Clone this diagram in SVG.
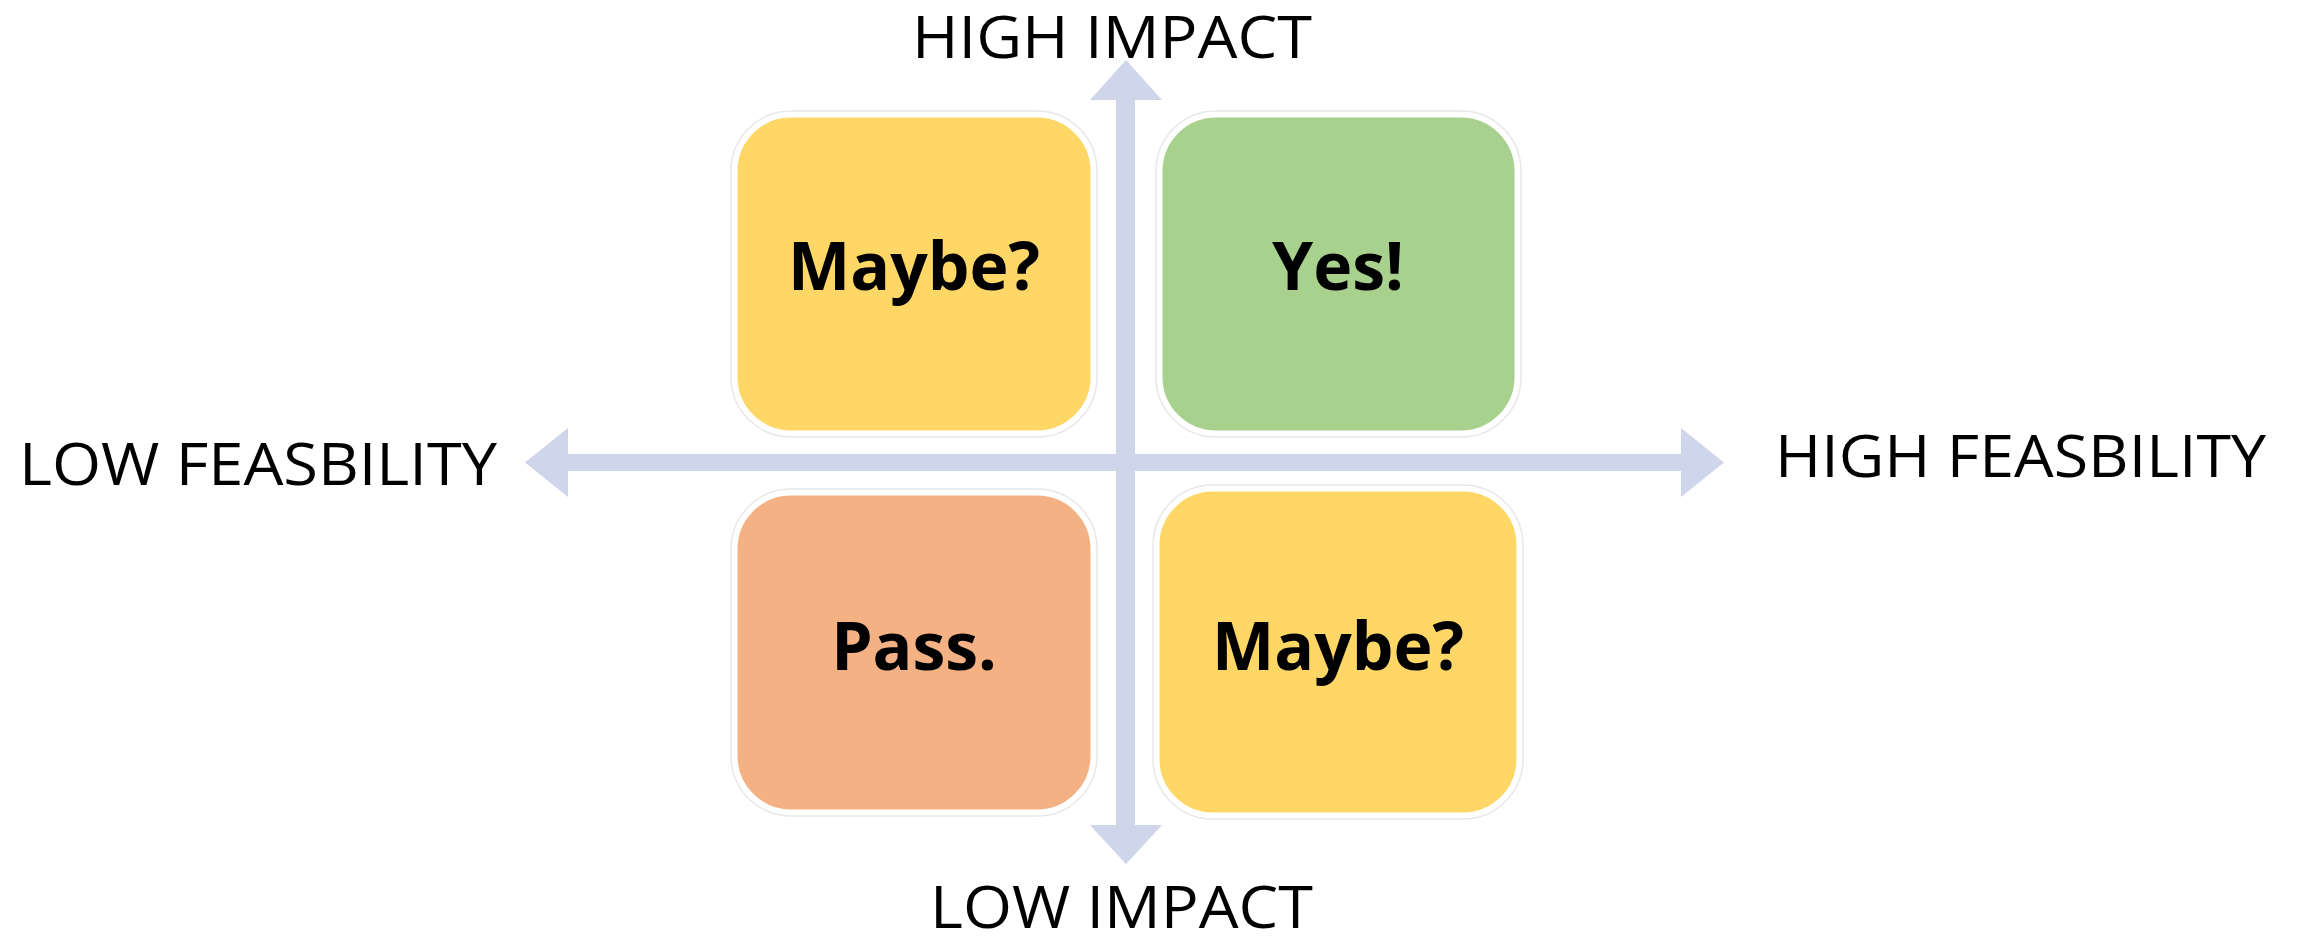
<svg xmlns="http://www.w3.org/2000/svg" width="2298" height="941" viewBox="0 0 2298 941">
<style>
.axis{fill:#cfd5ea;}
.box{stroke:#ffffff;stroke-width:5;}
.halo{fill:none;stroke:#e8e8e8;stroke-width:1.5;}
.lbl{font-family:"Open Sans","Noto Sans",sans-serif;font-size:58px;fill:#000;}
.q{font-family:"Open Sans","Noto Sans",sans-serif;font-weight:bold;font-size:66px;fill:#000;text-anchor:middle;}
</style>
<rect width="2298" height="941" fill="#ffffff"/>
<g id="connectors">
<polygon class="axis" points="1116,100 1090,100 1126,60 1162,100 1135,100 1135,825 1162,825 1126,864 1090,825 1116,825"/>
<polygon class="axis" points="568,454 568,428 525,462.5 568,497 568,471 1681,471 1681,497 1724,462.5 1681,428 1681,454"/>
</g>
<g id="node-maybe-tl">
<rect class="halo" x="731" y="111" width="366" height="326" rx="60"/>
<rect class="box" x="735" y="115" width="358" height="318" rx="56" fill="#ffd766"/>
<text class="q" x="914" y="290">Maybe?</text>
</g>
<g id="node-yes">
<rect class="halo" x="1156" y="111" width="365" height="326" rx="60"/>
<rect class="box" x="1160" y="115" width="357" height="318" rx="56" fill="#a9d18e"/>
<text class="q" x="1338" y="290">Yes!</text>
</g>
<g id="node-pass">
<rect class="halo" x="731" y="489" width="366" height="327" rx="60"/>
<rect class="box" x="735" y="493" width="358" height="319" rx="56" fill="#f4b183"/>
<text class="q" x="914" y="670">Pass.</text>
</g>
<g id="node-maybe-br">
<rect class="halo" x="1153" y="485" width="370" height="334" rx="60"/>
<rect class="box" x="1157" y="489" width="362" height="326" rx="56" fill="#ffd766"/>
<text class="q" x="1338" y="670">Maybe?</text>
</g>
<g id="axis-labels">
<text class="lbl" x="912" y="58" textLength="400" lengthAdjust="spacingAndGlyphs">HIGH IMPACT</text>
<text class="lbl" x="930" y="928" textLength="383" lengthAdjust="spacingAndGlyphs">LOW IMPACT</text>
<text class="lbl" x="19" y="485" textLength="478" lengthAdjust="spacingAndGlyphs">LOW FEASBILITY</text>
<text class="lbl" x="1775" y="477" textLength="491" lengthAdjust="spacingAndGlyphs">HIGH FEASBILITY</text>
</g>
</svg>
